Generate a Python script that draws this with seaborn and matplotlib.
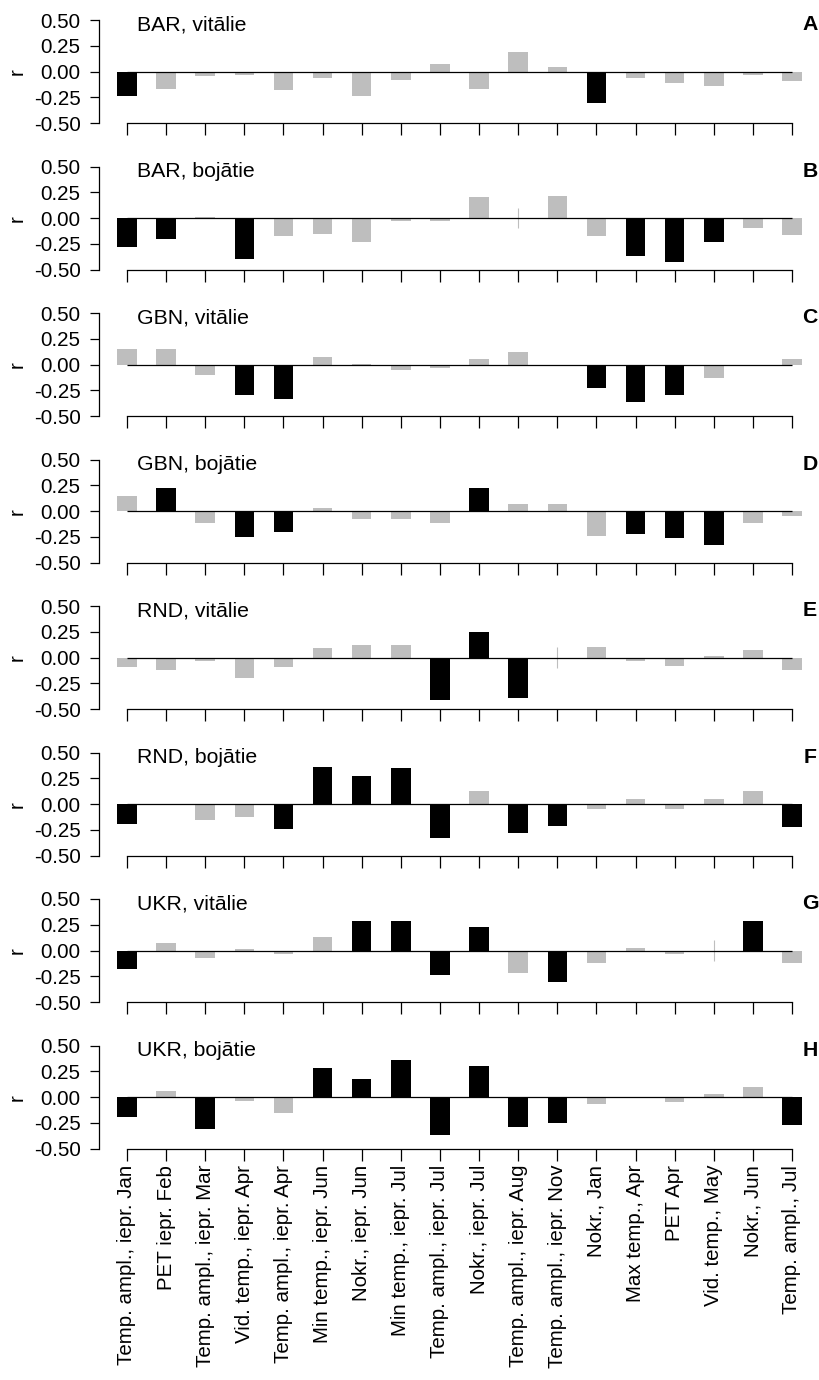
import numpy as np
import pandas as pd
import matplotlib
matplotlib.use("Agg")
import matplotlib.pyplot as plt
import seaborn as sns

# ---------------- data ----------------
categories = [
    "Temp. ampl., iepr. Jan", "PET iepr. Feb", "Temp. ampl., iepr. Mar",
    "Vid. temp., iepr. Apr", "Temp. ampl., iepr. Apr", "Min temp., iepr. Jun",
    "Nokr., iepr. Jun", "Min temp., iepr. Jul", "Temp. ampl., iepr. Jul",
    "Nokr., iepr. Jul", "Temp. ampl., iepr. Aug", "Temp. ampl., iepr. Nov",
    "Nokr., Jan", "Max temp., Apr", "PET Apr", "Vid. temp., May",
    "Nokr., Jun", "Temp. ampl., Jul",
]
panel_titles = ["BAR, vitālie", "BAR, bojātie", "GBN, vitālie", "GBN, bojātie",
                "RND, vitālie", "RND, bojātie", "UKR, vitālie", "UKR, bojātie"]
panel_letters = ["A", "B", "C", "D", "E", "F", "G", "H"]

r_A = [-0.24, -0.17, -0.045, -0.03, -0.18, -0.06, -0.235, -0.08, 0.077,
       -0.17, 0.19, 0.045, -0.30, -0.06, -0.11, -0.14, -0.03, -0.09]
s_A = [1, 0, 0, 0, 0, 0, 0, 0, 0, 0, 0, 0, 1, 0, 0, 0, 0, 0]
r_B = [-0.28, -0.20, 0.01, -0.40, -0.17, -0.155, -0.23, -0.03, -0.03,
       0.20, 0.0, 0.21, -0.17, -0.37, -0.42, -0.235, -0.094, -0.16]
s_B = [1, 1, 0, 1, 0, 0, 0, 0, 0, 0, 0, 0, 0, 1, 1, 1, 0, 0]
r_C = [0.155, 0.155, -0.097, -0.29, -0.33, 0.074, 0.01, -0.048, -0.03,
       0.058, 0.12, -0.016, -0.23, -0.36, -0.29, -0.126, -0.016, 0.058]
s_C = [0, 0, 0, 1, 1, 0, 0, 0, 0, 0, 0, 0, 1, 1, 1, 0, 0, 0]
r_D = [0.15, 0.226, -0.113, -0.255, -0.206, 0.026, -0.08, -0.08, -0.113,
       0.226, 0.074, 0.074, -0.24, -0.226, -0.258, -0.33, -0.113, -0.05]
s_D = [0, 1, 0, 1, 1, 0, 0, 0, 0, 1, 0, 0, 0, 1, 1, 1, 0, 0]
r_E = [-0.094, -0.123, -0.03, -0.20, -0.094, 0.09, 0.12, 0.12, -0.406,
       0.245, -0.39, 0.0, 0.106, -0.03, -0.077, 0.013, 0.074, -0.123]
s_E = [0, 0, 0, 0, 0, 0, 0, 0, 1, 1, 1, 0, 0, 0, 0, 0, 0, 0]
r_F = [-0.19, -0.01, -0.15, -0.12, -0.24, 0.36, 0.27, 0.35, -0.33,
       0.13, -0.28, -0.21, -0.05, 0.05, -0.05, 0.05, 0.13, -0.22]
s_F = [1, 0, 0, 0, 1, 1, 1, 1, 1, 0, 1, 1, 0, 0, 0, 0, 0, 1]
r_G = [-0.177, 0.074, -0.07, 0.013, -0.035, 0.13, 0.29, 0.29, -0.24,
       0.226, -0.22, -0.30, -0.116, 0.026, -0.035, 0.0, 0.29, -0.116]
s_G = [1, 0, 0, 0, 0, 0, 1, 1, 1, 1, 0, 1, 0, 0, 0, 0, 1, 0]
r_H = [-0.19, 0.06, -0.31, -0.04, -0.15, 0.28, 0.18, 0.36, -0.37,
       0.30, -0.29, -0.25, -0.07, -0.01, -0.05, 0.03, 0.10, -0.27]
s_H = [1, 0, 1, 0, 0, 1, 1, 1, 1, 1, 1, 1, 0, 0, 0, 0, 0, 1]

values = [r_A, r_B, r_C, r_D, r_E, r_F, r_G, r_H]
signif = [s_A, s_B, s_C, s_D, s_E, s_F, s_G, s_H]

# hairlines drawn at near-zero bars (panel index -> category index)
hairlines = {1: [10], 4: [11], 6: [15]}
hairline_half = 0.1

yticks = [0.5, 0.25, 0.0, -0.25, -0.5]
ytick_labels = ["0.50", "0.25", "0.00", "-0.25", "-0.50"]

# ---------------- style ----------------
sns.set_theme(style="ticks")
plt.rcParams['font.family'] = ['Liberation Sans', 'DejaVu Sans']
for key in ["text.color", "axes.labelcolor", "xtick.color", "ytick.color",
            "axes.edgecolor"]:
    plt.rcParams[key] = "black"

W, H = 820, 1380
fig = plt.figure(figsize=(W / 100, H / 100), dpi=100)

x_first_px, x_last_px = 127.0, 792.0
n = len(categories)
px_per_cat = (x_last_px - x_first_px) / (n - 1)
ax_left_px, ax_right_px = 99.5, 805.0
panel_top0, panel_step, panel_h = 20.0, 146.5, 103.3

grey = "#BEBEBE"
palette = {"ns": grey, "sig": "black"}
fs = 14.8

for i in range(8):
    top = panel_top0 + panel_step * i
    ax = fig.add_axes([ax_left_px / W, 1 - (top + panel_h) / H,
                       (ax_right_px - ax_left_px) / W, panel_h / H])
    df = pd.DataFrame({
        "cat": categories,
        "r": values[i],
        "sig": ["sig" if s else "ns" for s in signif[i]],
    })
    sns.barplot(data=df, x="cat", y="r", hue="sig", order=categories,
                palette=palette, dodge=False, width=0.5, legend=False,
                saturation=1, linewidth=0, ax=ax)
    for idx in hairlines.get(i, []):
        ax.vlines(idx, -hairline_half, hairline_half, color=grey, lw=0.8)
    ax.hlines(0, 0, n - 1, color="black", lw=0.9, zorder=3)

    x0 = -(x_first_px - ax_left_px) / px_per_cat
    x1 = (n - 1) + (ax_right_px - x_last_px) / px_per_cat
    ax.set_xlim(x0, x1)
    ax.set_ylim(-0.5, 0.5)
    ax.set_yticks(yticks)
    ax.set_yticklabels(ytick_labels)
    ax.set_xticks(range(n))
    if i == 7:
        ax.set_xticklabels(categories, rotation=90, fontsize=fs)
    else:
        ax.set_xticklabels([])
    ax.set_xlabel("")
    ax.set_ylabel("r", fontsize=fs)
    ax.yaxis.set_label_coords(-0.103, 0.5)

    for sp in ["top", "right"]:
        ax.spines[sp].set_visible(False)
    ax.spines["left"].set_bounds(-0.5, 0.5)
    ax.spines["bottom"].set_bounds(0, n - 1)
    for sp in ["left", "bottom"]:
        ax.spines[sp].set_linewidth(0.9)
        ax.spines[sp].set_color("black")
    ax.tick_params(axis="y", direction="out", length=6.5, width=0.9,
                   labelsize=fs, pad=7, colors="black")
    ax.tick_params(axis="x", direction="out", length=8.6, width=0.9,
                   labelsize=fs, pad=3, colors="black")
    ax.set_facecolor("white")

    ax.text((137 - x_first_px) / px_per_cat, 0.452, panel_titles[i],
            ha="left", va="center", fontsize=fs + 0.5, color="black")
    ax.text((n - 1) + (810 - x_last_px) / px_per_cat, 0.452, panel_letters[i],
            ha="center", va="center", fontsize=fs + 0.5, fontweight="bold",
            color="black", clip_on=False)

fig.savefig("out.png", dpi=100, facecolor="white")
